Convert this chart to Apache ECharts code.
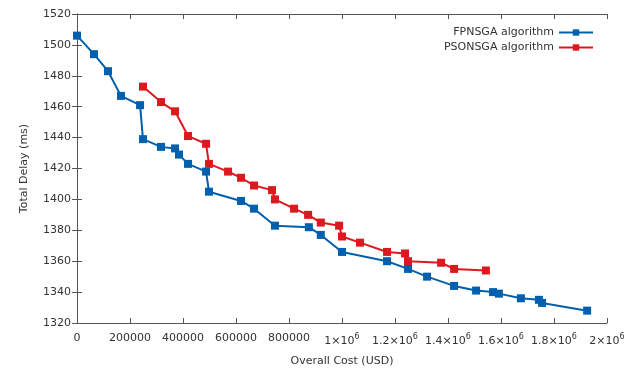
<!DOCTYPE html>
<html>
<head>
<meta charset="utf-8">
<script src="https://cdn.jsdelivr.net/npm/echarts@6/dist/echarts.min.js"></script>
<style>
  html, body { margin: 0; padding: 0; background: #fff; }
  #chart { width: 635px; height: 372px; }
</style>
</head>
<body>
<div id="chart"></div>
<script>
// FPNSGA algorithm
var costF = [0, 64000, 117000, 166000, 238000, 249000, 317000, 370000, 385000, 419000,
  487000, 498000, 619000, 668000, 747000, 875000, 920000, 1000000, 1170000, 1249000,
  1321000, 1423000, 1506000, 1570000, 1592000, 1675000, 1743000, 1755000, 1925000];
var delayF = [1506, 1494, 1483, 1467, 1461, 1439, 1434, 1433, 1429, 1423,
  1418, 1405, 1399, 1394, 1383, 1382, 1377, 1366, 1360, 1355,
  1350, 1344, 1341, 1340, 1339, 1336, 1335, 1333, 1328];

// PSONSGA algorithm
var costP = [249000, 317000, 370000, 419000, 487000, 498000, 570000, 619000, 668000, 736000,
  747000, 819000, 872000, 920000, 989000, 1000000, 1068000, 1170000, 1238000, 1249000,
  1374000, 1423000, 1543000];
var delayP = [1473, 1463, 1457, 1441, 1436, 1423, 1418, 1414, 1409, 1406,
  1400, 1394, 1390, 1385, 1383, 1376, 1372, 1366, 1365, 1360,
  1359, 1355, 1354];

var xMin = 0, xMax = 2000000, xStep = 200000;
var yMin = 1320, yMax = 1520, yStep = 20;

function pairs(xs, ys) {
  return xs.map(function (x, i) { return [x, ys[i]]; });
}

var font = 'DejaVu Sans';
var txt = '#333';

// gnuplot style: 1×10^6 with a raised exponent
function costLabel(v) {
  if (v >= 1000000) {
    return '{n|' + (v / 1000000) + '×10}{s|6}';
  }
  return '{n|' + v + '}';
}

var chart = echarts.init(document.getElementById('chart'));

var axisLine = { show: true, lineStyle: { color: '#555', width: 1 } };
var tick = { inside: true, length: 5, lineStyle: { color: '#555' } };

chart.setOption({
  animation: false,
  grid: { left: 77, right: 28, top: 14, bottom: 48 },
  legend: {
    orient: 'vertical',
    right: 36,
    top: 22,
    align: 'right',
    itemWidth: 34,
    itemHeight: 8,
    itemGap: 4,
    textStyle: { fontFamily: font, fontSize: 11, color: txt },
    data: ['FPNSGA algorithm', 'PSONSGA algorithm']
  },
  xAxis: [{
    type: 'value',
    min: xMin, max: xMax, interval: xStep,
    name: 'Overall Cost (USD)',
    nameLocation: 'middle',
    nameGap: 33,
    nameTextStyle: { fontFamily: font, fontSize: 11, color: txt },
    axisLine: axisLine,
    axisTick: tick,
    splitLine: { show: false },
    axisLabel: {
      margin: 10,
      formatter: costLabel,
      rich: {
        n: { fontFamily: font, fontSize: 11, color: txt },
        s: { fontFamily: font, fontSize: 8, color: txt, padding: [0, 0, 8, 0] }
      }
    }
  }, {
    type: 'value',
    position: 'top',
    min: xMin, max: xMax, interval: xStep,
    axisLine: axisLine,
    axisTick: tick,
    axisLabel: { show: false },
    splitLine: { show: false }
  }],
  yAxis: [{
    type: 'value',
    min: yMin, max: yMax, interval: yStep,
    name: 'Total Delay (ms)',
    nameLocation: 'middle',
    nameGap: 47,
    nameTextStyle: { fontFamily: font, fontSize: 11, color: txt },
    axisLine: axisLine,
    axisTick: tick,
    splitLine: { show: false },
    axisLabel: {
      fontFamily: font, fontSize: 11, color: txt, margin: 6,
      formatter: function (v) { return String(v); }
    }
  }, {
    type: 'value',
    position: 'right',
    min: yMin, max: yMax, interval: yStep,
    axisLine: axisLine,
    axisTick: tick,
    axisLabel: { show: false },
    splitLine: { show: false }
  }],
  series: [{
    name: 'FPNSGA algorithm',
    type: 'line',
    data: pairs(costF, delayF),
    symbol: 'rect',
    symbolSize: 8,
    itemStyle: { color: '#0060ad' },
    lineStyle: { color: '#0060ad', width: 2 }
  }, {
    name: 'PSONSGA algorithm',
    type: 'line',
    data: pairs(costP, delayP),
    symbol: 'rect',
    symbolSize: 8,
    itemStyle: { color: '#dd181f' },
    lineStyle: { color: '#dd181f', width: 2 }
  }]
});
</script>
</body>
</html>
